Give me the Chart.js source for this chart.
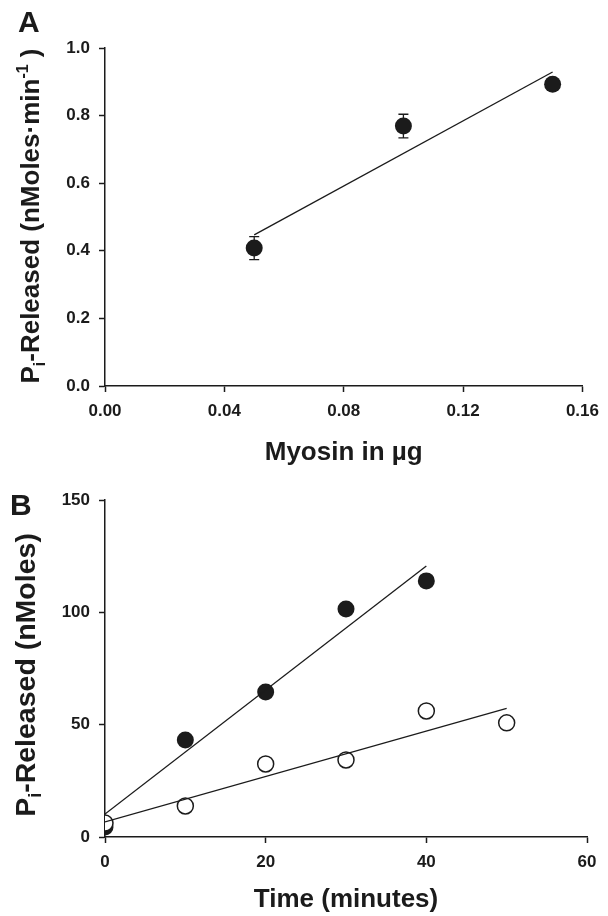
<!DOCTYPE html>
<html>
<head>
<meta charset="utf-8">
<script src="https://cdn.jsdelivr.net/npm/chart.js@4"></script>
<style>
body{margin:0;background:#fff;}
canvas{display:block;}
</style>
</head>
<body>
<canvas id="chartA" width="608" height="478"></canvas>
<canvas id="chartB" width="608" height="438"></canvas>
<script>
// panel A - Pi released vs amount of myosin
const myosinUg = [0.05, 0.10, 0.15];
const rateA = [0.408, 0.769, 0.893];
const rateErrA = [0.034, 0.035, 0.008];
const fitXA = [0.05, 0.15];
const fitYA = [0.447, 0.929];
const xTicksA = [0, 0.04, 0.08, 0.12, 0.16];
const yTicksA = [0, 0.2, 0.4, 0.6, 0.8, 1.0];

// panel B - Pi released over time
const timeFilled = [0, 10, 20, 30, 40];
const piFilled = [4.5, 43.2, 64.5, 101.5, 114];
const timeOpen = [0, 10, 20, 30, 40, 50];
const piOpen = [6.2, 13.8, 32.5, 34.3, 56.1, 50.8];
const fitXFilled = [0, 40];
const fitYFilled = [10.2, 120.6];
const fitXOpen = [0, 50];
const fitYOpen = [6.7, 57.2];
const xTicksB = [0, 20, 40, 60];
const yTicksB = [0, 50, 100, 150];

const ink = '#1b1b1b';
const FONT = '"Liberation Sans", Arial, sans-serif';

function pts(xs, ys){
    return xs.map((x,i)=>({x:x, y:ys[i]}));
}

function axis(ticks, fmt, size){
    return {
        type:'linear',
        min:ticks[0],
        max:ticks[ticks.length-1],
        afterBuildTicks: s => { s.ticks = ticks.map(v=>({value:v})); },
        afterFit: s => { if (s.isHorizontal()) s.height = size; else s.width = size; },
        border:{display:true, color:ink, width:1.5},
        grid:{drawOnChartArea:false, drawTicks:true, tickLength:6, tickWidth:1.5, tickColor:ink, color:ink},
        ticks:{color:ink, padding:9, font:{family:FONT, size:17, weight:'bold'}, callback:fmt}
    };
}

// text with sub/superscript pieces, centred on (0,0) baseline
function drawRich(ctx, parts, size){
    const small = Math.round(size*0.62);
    let total = 0;
    parts.forEach(p=>{
        ctx.font = 'bold ' + (p.s ? small : size) + 'px ' + FONT;
        p.w = ctx.measureText(p.t).width;
        total += p.w;
    });
    let x = -total/2;
    ctx.textAlign = 'left';
    ctx.textBaseline = 'alphabetic';
    parts.forEach(p=>{
        ctx.font = 'bold ' + (p.s ? small : size) + 'px ' + FONT;
        const dy = p.s === 1 ? -size*0.42 : (p.s === -1 ? size*0.22 : 0);
        ctx.fillText(p.t, x, dy);
        x += p.w;
    });
}

function decor(o){
    return {
        id:'decor',
        beforeDatasetsDraw(chart){
            if (!o.err) return;
            const ctx = chart.ctx, sx = chart.scales.x, sy = chart.scales.y;
            ctx.save();
            ctx.strokeStyle = ink;
            ctx.lineWidth = 1.3;
            o.err.xs.forEach((xv,i)=>{
                const px = sx.getPixelForValue(xv);
                const top = sy.getPixelForValue(o.err.ys[i] + o.err.e[i]);
                const bot = sy.getPixelForValue(o.err.ys[i] - o.err.e[i]);
                ctx.beginPath();
                ctx.moveTo(px, top); ctx.lineTo(px, bot);
                ctx.moveTo(px-5, top); ctx.lineTo(px+5, top);
                ctx.moveTo(px-5, bot); ctx.lineTo(px+5, bot);
                ctx.stroke();
            });
            ctx.restore();
        },
        afterDraw(chart){
            const ctx = chart.ctx, area = chart.chartArea;
            ctx.save();
            ctx.fillStyle = ink;
            // panel letter
            ctx.font = 'bold 30px ' + FONT;
            ctx.textAlign = 'left';
            ctx.textBaseline = 'alphabetic';
            ctx.fillText(o.letter, o.letterX, o.letterY);
            // x title
            ctx.save();
            ctx.translate((area.left+area.right)/2, o.xTitleY);
            drawRich(ctx, [{t:o.xTitle}], 26);
            ctx.restore();
            // y title, rotated
            ctx.save();
            ctx.translate(o.yTitleX, o.yTitleY);
            ctx.rotate(-Math.PI/2);
            drawRich(ctx, o.yTitle, o.yTitleSize);
            ctx.restore();
            ctx.restore();
        }
    };
}

function baseOptions(scales, pad){
    return {
        responsive:false,
        animation:false,
        layout:{padding:pad},
        plugins:{legend:{display:false}, tooltip:{enabled:false}},
        scales:scales
    };
}

// note: dataset 0 ends up on top
const lineStyle = {showLine:true, pointRadius:0, borderColor:ink, borderWidth:1.3, fill:false};

const chartA = new Chart(document.getElementById('chartA').getContext('2d'),{
    type:'scatter',
    data:{
        datasets:[
            Object.assign({label:'fit', data:pts(fitXA, fitYA)}, lineStyle),
            {label:'rate', data:pts(myosinUg, rateA), pointRadius:8.5, pointBackgroundColor:ink, pointBorderColor:ink, pointBorderWidth:0}
        ]
    },
    options:baseOptions({
        x:axis(xTicksA, v=>v.toFixed(2), 92),
        y:axis(yTicksA, v=>v.toFixed(1), 105)
    }, {top:48, right:21, left:0, bottom:0}),
    plugins:[decor({
        letter:'A', letterX:18, letterY:32,
        xTitle:'Myosin in \u00b5g', xTitleY:460,
        yTitleX:39, yTitleY:216, yTitleSize:26,
        yTitle:[{t:'P'},{t:'i',s:-1},{t:'-Released (nMoles\u00b7min'},{t:'-1',s:1},{t:' )'}],
        err:{xs:myosinUg, ys:rateA, e:rateErrA}
    })]
});

const chartB = new Chart(document.getElementById('chartB').getContext('2d'),{
    type:'scatter',
    data:{
        datasets:[
            Object.assign({label:'fit filled', data:pts(fitXFilled, fitYFilled)}, lineStyle),
            Object.assign({label:'fit open', data:pts(fitXOpen, fitYOpen)}, lineStyle),
            {label:'open', data:pts(timeOpen, piOpen), pointRadius:8, pointBackgroundColor:'#fff', pointBorderColor:ink, pointBorderWidth:1.5},
            {label:'filled', data:pts(timeFilled, piFilled), pointRadius:8.5, pointBackgroundColor:ink, pointBorderColor:ink, pointBorderWidth:0}
        ]
    },
    options:baseOptions({
        x:axis(xTicksB, v=>String(v), 79),
        y:axis(yTicksB, v=>String(v), 105)
    }, {top:22, right:21, left:0, bottom:0}),
    plugins:[decor({
        letter:'B', letterX:10, letterY:37,
        xTitle:'Time (minutes)', xTitleY:429,
        yTitleX:35, yTitleY:197, yTitleSize:28.5,
        yTitle:[{t:'P'},{t:'i',s:-1},{t:'-Released (nMoles)'}]
    })]
});
</script>
</body>
</html>
